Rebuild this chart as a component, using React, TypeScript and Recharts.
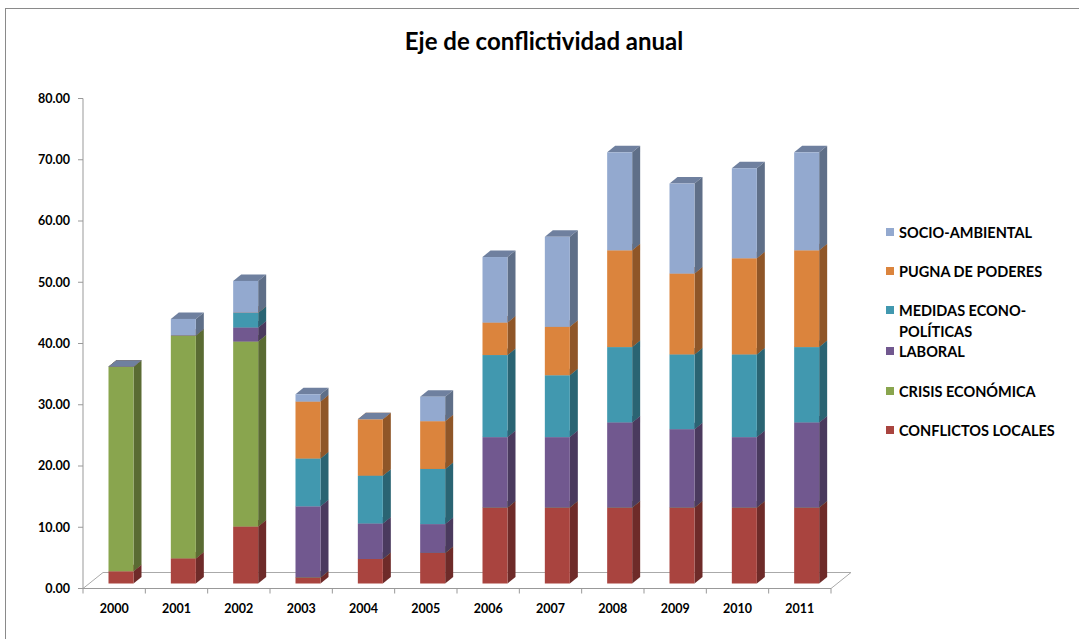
import { Bar, BarChart, XAxis, YAxis } from 'recharts'

const years = ['2000', '2001', '2002', '2003', '2004', '2005', '2006', '2007', '2008', '2009', '2010', '2011']
const conflictosLocales = [2.0, 4.1, 9.3, 1.0, 4.0, 5.0, 12.4, 12.4, 12.4, 12.4, 12.4, 12.4]
const crisisEconomica = [33.4, 36.4, 30.2, 0, 0, 0, 0, 0, 0, 0, 0, 0]
const laboral = [0, 0, 2.3, 11.6, 5.8, 4.7, 11.5, 11.5, 13.9, 12.8, 11.5, 13.9]
const medidas = [0, 0, 2.4, 7.8, 7.8, 9.0, 13.4, 10.1, 12.3, 12.2, 13.5, 12.3]
const pugna = [0, 0, 0, 9.3, 9.2, 7.8, 5.3, 7.9, 15.8, 13.2, 15.7, 15.8]
const socioAmbiental = [0, 2.7, 5.2, 1.2, 0, 4.0, 10.7, 14.7, 16.0, 14.7, 14.7, 16.0]
const yTicks = [0, 10, 20, 30, 40, 50, 60, 70, 80]

const series = [
  { key: 'conflictos', name: 'CONFLICTOS LOCALES', values: conflictosLocales, front: '#A9443F', side: '#6E2B29', top: '#8A3733' },
  { key: 'crisis', name: 'CRISIS ECONÓMICA', values: crisisEconomica, front: '#89A54E', side: '#5A6B33', top: '#6F8740' },
  { key: 'laboral', name: 'LABORAL', values: laboral, front: '#71588F', side: '#4A3A5E', top: '#5C4875' },
  { key: 'medidas', name: 'MEDIDAS ECONO-\nPOLÍTICAS', values: medidas, front: '#4198AF', side: '#2A6473', top: '#357D90' },
  { key: 'pugna', name: 'PUGNA DE PODERES', values: pugna, front: '#DB843D', side: '#8F5628', top: '#B46C32' },
  { key: 'socio', name: 'SOCIO-AMBIENTAL', values: socioAmbiental, front: '#93A9CF', side: '#5F6F88', top: '#6F809F' },
]

const data = years.map((year, i) => {
  const row: Record<string, string | number> = { year }
  series.forEach((s) => {
    row[s.key] = s.values[i]
  })
  return row
})

// chart frame
const W = 1079
const H = 639
const AXIS_X = 83
const AXIS_RIGHT = 831
const AXIS_TOP = 98.5
const AXIS_BOTTOM = 588.5
const YAXIS_W = 60
const XAXIS_H = 30
const FLOOR_DX = 20
const FLOOR_DY = 16
const BAR_OX = 6.5
const BAR_OY = 5
const DEPTH_X = 8
const DEPTH_Y = 6.5
const FONT = 'Lato, "Open Sans", sans-serif'
const band = (AXIS_RIGHT - AXIS_X) / years.length

function Box3D(props: any) {
  const { x, y, width, height, front, side, top } = props
  if (x == null || y == null) return null
  const fx = x + BAR_OX
  const fy = y - BAR_OY
  const h = Math.max(height || 0, 0)
  return (
    <g>
      <polygon
        points={`${fx},${fy} ${fx + DEPTH_X},${fy - DEPTH_Y} ${fx + width + DEPTH_X},${fy - DEPTH_Y} ${fx + width},${fy}`}
        fill={top}
      />
      <polygon
        points={`${fx + width},${fy} ${fx + width + DEPTH_X},${fy - DEPTH_Y} ${fx + width + DEPTH_X},${fy - DEPTH_Y + h} ${fx + width},${fy + h}`}
        fill={side}
      />
      {h > 0 && <rect x={fx} y={fy} width={width} height={h} fill={front} />}
    </g>
  )
}

function YearTick(props: any) {
  const { x, y, payload, index } = props
  const last = index === years.length - 1
  return (
    <g>
      <line x1={x - band / 2} y1={y} x2={x - band / 2} y2={y + 5} stroke="#999" />
      {last && <line x1={x + band / 2} y1={y} x2={x + band / 2} y2={y + 5} stroke="#999" />}
      <text x={x} y={y + 24} textAnchor="middle" fontSize={12.5} fontWeight={700} fill="#000" fontFamily={FONT}>
        {payload.value}
      </text>
    </g>
  )
}

export default function App() {
  const floor = `${AXIS_X},${AXIS_BOTTOM} ${AXIS_X + FLOOR_DX},${AXIS_BOTTOM - FLOOR_DY} ${AXIS_RIGHT + FLOOR_DX},${AXIS_BOTTOM - FLOOR_DY} ${AXIS_RIGHT},${AXIS_BOTTOM}`
  return (
    <div style={{ position: 'absolute', left: 0, top: 0, width: W, height: H, background: '#fff', overflow: 'hidden' }}>
      <div style={{ position: 'absolute', left: 5, top: 8, width: W, height: H, borderLeft: '1px solid #8a8a8a', borderTop: '1px solid #8a8a8a' }} />
      <div
        style={{
          position: 'absolute',
          left: 0,
          width: 1088,
          top: 25,
          textAlign: 'center',
          fontFamily: FONT,
          fontWeight: 700,
          fontSize: 24,
          lineHeight: '32px',
          color: '#000',
        }}
      >
        Eje de conflictividad anual
      </div>
      <svg width={W} height={H} style={{ position: 'absolute', left: 0, top: 0 }}>
        <polygon points={floor} fill="#fff" stroke="#aaa" strokeWidth={1} />
      </svg>
      <div style={{ position: 'absolute', left: 0, top: 0 }}>
        <BarChart
          width={W}
          height={H}
          data={data}
          barSize={25}
          margin={{ left: AXIS_X - YAXIS_W, right: W - AXIS_RIGHT, top: AXIS_TOP, bottom: H - AXIS_BOTTOM - XAXIS_H }}
        >
          <XAxis
            dataKey="year"
            height={XAXIS_H}
            axisLine={{ stroke: '#999' }}
            tickLine={false}
            tickSize={0}
            tickMargin={0}
            tick={<YearTick />}
            interval={0}
          />
          <YAxis
            width={YAXIS_W}
            domain={[0, 80]}
            ticks={yTicks}
            tickFormatter={(v: number) => v.toFixed(2)}
            axisLine={{ stroke: '#999' }}
            tickLine={{ stroke: '#999' }}
            tickSize={5}
            tickMargin={8}
            tick={{ fontSize: 12.5, fontWeight: 700, fill: '#000', fontFamily: FONT }}
          />
          {series.map((s) => (
            <Bar
              key={s.key}
              dataKey={s.key}
              name={s.name}
              stackId="a"
              isAnimationActive={false}
              shape={(p: any) => <Box3D {...p} front={s.front} side={s.side} top={s.top} />}
            />
          ))}
        </BarChart>
      </div>
      <div style={{ position: 'absolute', left: 886, top: 0, fontFamily: FONT, fontWeight: 700, fontSize: 14.5, color: '#000' }}>
        {[...series].reverse().map((s, i) => {
          const tops = [224, 263, 302, 343, 383, 422]
          return (
            <div key={s.key} style={{ position: 'absolute', top: tops[i], left: 0, whiteSpace: 'pre', lineHeight: '21px' }}>
              <span style={{ position: 'absolute', left: 0, top: 4, width: 8, height: 8, background: s.front }} />
              <span style={{ position: 'absolute', left: 13, top: -2 }}>{s.name}</span>
            </div>
          )
        })}
      </div>
    </div>
  )
}
